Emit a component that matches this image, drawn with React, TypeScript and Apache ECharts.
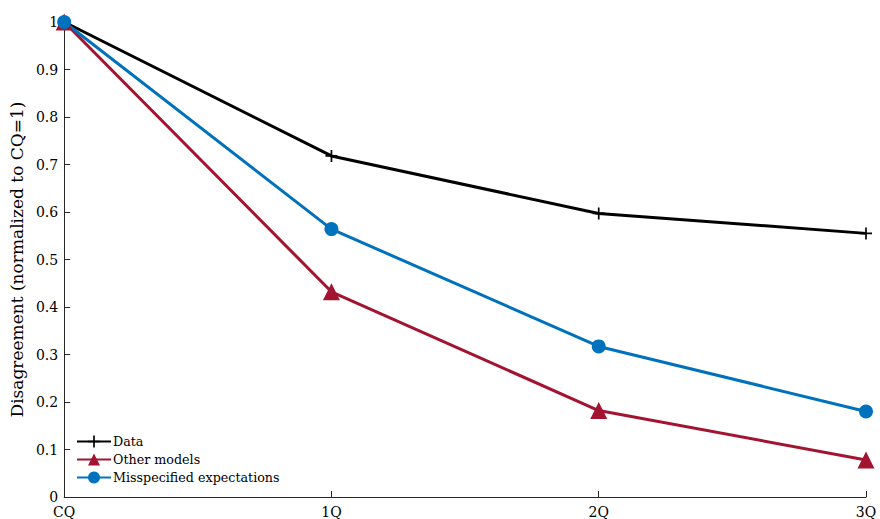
import React, { useEffect, useRef } from "react";
import * as echarts from "echarts";

const categories = ["CQ", "1Q", "2Q", "3Q"];
const dataSeries = [1, 0.718, 0.597, 0.555];
const otherModels = [1, 0.432, 0.182, 0.078];
const misspecified = [1, 0.564, 0.317, 0.18];

const FONT = "DejaVu Serif";

export default function App() {
  const ref = useRef<HTMLDivElement>(null);
  useEffect(() => {
    if (!ref.current) return;
    const chart = echarts.init(ref.current, undefined, { renderer: "svg" });
    const plus = "path://M4.3,0h1.4v4.3h4.3v1.4h-4.3v4.3h-1.4v-4.3h-4.3v-1.4h4.3z";
    chart.setOption({
      animation: false,
      textStyle: { fontFamily: FONT },
      grid: { left: 63, right: 14, top: 22, bottom: 22, containLabel: false },
      legend: {
        left: 71,
        bottom: 30,
        orient: "vertical",
        itemGap: 5,
        itemWidth: 34,
        itemHeight: 15,
        textStyle: { fontFamily: FONT, fontSize: 12.7, color: "#000", padding: [0, 0, 0, -3] },
        data: ["Data", "Other models", "Misspecified expectations"],
      },
      xAxis: {
        type: "category",
        data: categories,
        boundaryGap: false,
        axisLine: { lineStyle: { color: "#262626", width: 1 } },
        axisTick: { inside: true, length: 6, alignWithLabel: true, lineStyle: { color: "#262626" } },
        axisLabel: { fontFamily: FONT, fontSize: 14, color: "#000", margin: 8 },
      },
      yAxis: {
        type: "value",
        min: 0,
        max: 1,
        interval: 0.1,
        name: "Disagreement (normalized to CQ=1)",
        nameLocation: "middle",
        nameGap: 38,
        nameTextStyle: { fontFamily: FONT, fontSize: 17, color: "#000" },
        splitLine: { show: false },
        axisLine: { show: true, lineStyle: { color: "#262626", width: 1 } },
        axisTick: { show: true, inside: true, length: 6, lineStyle: { color: "#262626" } },
        axisLabel: { fontFamily: FONT, fontSize: 14, color: "#000", margin: 6 },
      },
      series: [
        {
          name: "Data",
          type: "line",
          data: dataSeries,
          symbol: plus,
          symbolSize: 12,
          lineStyle: { color: "#000", width: 3 },
          itemStyle: { color: "#000" },
        },
        {
          name: "Other models",
          type: "line",
          data: otherModels,
          symbol: "triangle",
          symbolSize: 17,
          lineStyle: { color: "#A2142F", width: 3 },
          itemStyle: { color: "#A2142F" },
        },
        {
          name: "Misspecified expectations",
          type: "line",
          data: misspecified,
          symbol: "circle",
          symbolSize: 14,
          lineStyle: { color: "#0072BD", width: 3 },
          itemStyle: { color: "#0072BD" },
        },
      ],
    });
    return () => chart.dispose();
  }, []);
  return (
    <div
      ref={ref}
      style={{ position: "absolute", left: 0, top: 0, width: 880, height: 519 }}
    />
  );
}
